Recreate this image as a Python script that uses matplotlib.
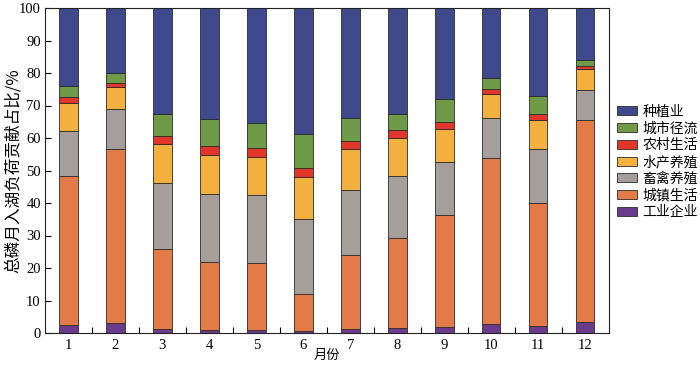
import matplotlib
matplotlib.use("Agg")
import matplotlib.pyplot as plt
import numpy as np

plt.rcParams['font.family'] = ['Liberation Serif', 'Noto Sans CJK SC', 'DejaVu Sans']

months = ['1', '2', '3', '4', '5', '6', '7', '8', '9', '10', '11', '12']
industry = [2.6, 3.2, 1.3, 1.0, 1.0, 0.6, 1.2, 1.4, 1.8, 2.9, 2.3, 3.5]
urban_life = [45.8, 53.5, 24.5, 20.7, 20.5, 11.4, 22.9, 27.7, 34.4, 51.0, 37.6, 61.9]
livestock = [13.9, 12.1, 20.5, 21.0, 21.0, 23.0, 20.0, 19.3, 16.3, 12.3, 16.8, 9.4]
aquaculture = [8.4, 6.8, 11.8, 12.0, 11.8, 13.0, 12.5, 11.7, 10.3, 7.4, 8.9, 6.5]
rural_life = [1.8, 1.4, 2.6, 2.7, 2.7, 2.9, 2.4, 2.4, 2.1, 1.4, 1.9, 1.0]
urban_runoff = [3.4, 3.0, 6.6, 8.3, 7.5, 10.2, 7.2, 4.9, 7.0, 3.5, 5.3, 1.7]
planting = [24.1, 20.0, 32.7, 34.3, 35.5, 38.9, 33.8, 32.6, 28.1, 21.5, 27.2, 16.0]

series = [
    ('工业企业', industry, '#6B3A8C'),
    ('城镇生活', urban_life, '#E27B48'),
    ('畜禽养殖', livestock, '#A59E9A'),
    ('水产养殖', aquaculture, '#F5B140'),
    ('农村生活', rural_life, '#E2362A'),
    ('城市径流', urban_runoff, '#6F9A48'),
    ('种植业', planting, '#3E4A8B'),
]

fig = plt.figure(figsize=(7.0, 3.65), dpi=100)
ax = fig.add_axes([45/700, 1-333/365, (608.5-45)/700, (333-8)/365])

x = np.arange(1, len(months) + 1)
bottom = np.zeros(len(months))
handles = []
for name, vals, col in series:
    v = np.array(vals, dtype=float)
    b = ax.bar(x, v, 0.4, bottom=bottom, color=col, edgecolor='#2b2b2b',
               linewidth=0.6, label=name)
    handles.append(b)
    bottom += v

ax.set_xlim(0.5, 12.5)
ax.set_ylim(0, 100)
ax.set_yticks(np.arange(0, 101, 10))
ax.set_xticks(x)
ax.set_xticklabels(months)
ax.set_xticks(np.arange(1.5, 12.5, 1), minor=True)
ax.tick_params(axis='x', which='major', length=0, labelsize=10.5, pad=4)
ax.tick_params(axis='x', which='minor', direction='in', length=4, width=0.8)
ax.tick_params(axis='y', direction='in', length=4, width=0.8, labelsize=10.5, pad=3)
for s in ax.spines.values():
    s.set_linewidth(0.8)
    s.set_color('#222222')

ax.set_xlabel('月份', fontsize=9.5, family=['Noto Sans CJK SC'], labelpad=-2)
ax.set_ylabel('总磷月入湖负荷贡献占比/%', fontsize=12, family=['Noto Sans CJK SC'], labelpad=-2)

leg = fig.legend(handles[::-1], [s[0] for s in series][::-1],
                 loc='center left', bbox_to_anchor=(617/700, 1-162/365),
                 frameon=False, prop={'family': 'Noto Sans CJK SC', 'size': 10},
                 handlelength=1.45, handleheight=0.6, handletextpad=0.4,
                 labelspacing=0.2, borderaxespad=0, borderpad=0)

fig.savefig('out.png', dpi=100)
